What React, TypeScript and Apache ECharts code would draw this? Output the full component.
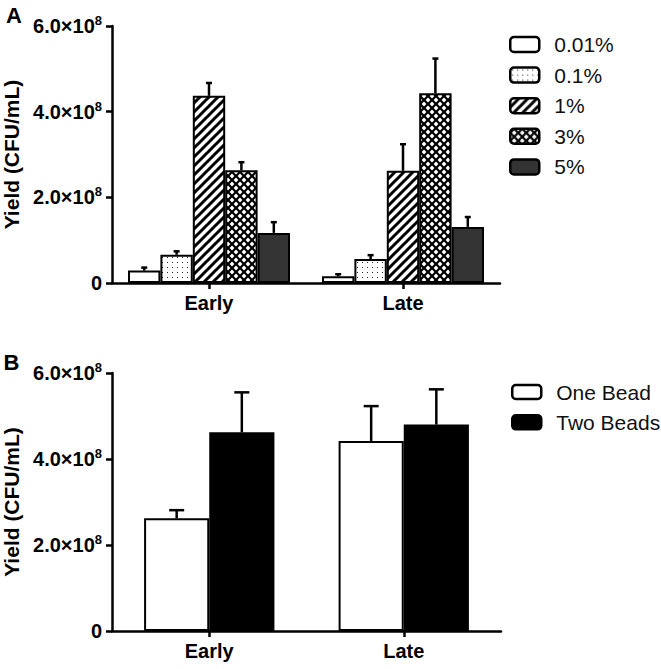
import React, { useEffect, useRef } from "react";
import * as echarts from "echarts";

const categories = ["Early", "Late"];

// Panel A: concentration groups
const seriesNamesA = ["0.01%", "0.1%", "1%", "3%", "5%"];
const meansA = [
  [0.29e8, 0.155e8],
  [0.66e8, 0.56e8],
  [4.37e8, 2.62e8],
  [2.63e8, 4.43e8],
  [1.17e8, 1.31e8],
];
const errorsA = [
  [0.07e8, 0.05e8],
  [0.08e8, 0.09e8],
  [0.3e8, 0.62e8],
  [0.19e8, 0.81e8],
  [0.25e8, 0.23e8],
];

// Panel B: bead count
const seriesNamesB = ["One Bead", "Two Beads"];
const meansB = [
  [2.62e8, 4.42e8],
  [4.62e8, 4.8e8],
];
const errorsB = [
  [0.19e8, 0.81e8],
  [0.93e8, 0.82e8],
];

const yTicks = { min: 0, max: 6e8, interval: 2e8 };

const FONT = "'Liberation Sans', Arial, Helvetica, sans-serif";

function makeTile(w: number, h: number, bg: string, draw: (ctx: CanvasRenderingContext2D) => void) {
  const c = document.createElement("canvas");
  c.width = w;
  c.height = h;
  const ctx = c.getContext("2d") as CanvasRenderingContext2D;
  ctx.fillStyle = bg;
  ctx.fillRect(0, 0, w, h);
  draw(ctx);
  return { image: c, repeat: "repeat", imageWidth: w, imageHeight: h } as any;
}

function diamond(ctx: CanvasRenderingContext2D, cx: number, cy: number, r: number) {
  ctx.beginPath();
  ctx.moveTo(cx, cy - r);
  ctx.lineTo(cx + r, cy);
  ctx.lineTo(cx, cy + r);
  ctx.lineTo(cx - r, cy);
  ctx.closePath();
  ctx.fill();
}

function buildPatterns() {
  const dots = makeTile(5, 5, "#fff", (ctx) => {
    ctx.fillStyle = "#222";
    ctx.fillRect(2, 2, 1, 1);
  });
  const stripes = makeTile(9, 9, "#fff", (ctx) => {
    ctx.strokeStyle = "#000";
    ctx.lineWidth = 3;
    ctx.beginPath();
    ctx.moveTo(-1, 10);
    ctx.lineTo(10, -1);
    ctx.moveTo(-2, 2);
    ctx.lineTo(2, -2);
    ctx.moveTo(7, 11);
    ctx.lineTo(11, 7);
    ctx.stroke();
  });
  const cross = makeTile(8, 8, "#000", (ctx) => {
    ctx.fillStyle = "#fff";
    const r = 2.4;
    diamond(ctx, 4, 4, r);
    diamond(ctx, 0, 0, r);
    diamond(ctx, 8, 0, r);
    diamond(ctx, 0, 8, r);
    diamond(ctx, 8, 8, r);
  });
  return ["#ffffff", dots, stripes, cross, "#333333"];
}

function yLabel(v: number) {
  if (v === 0) return "{a|0}";
  return `{a|${(v / 1e8).toFixed(1)}×10}{s|8}`;
}

export default function App() {
  const ref = useRef<HTMLDivElement>(null);

  useEffect(() => {
    if (!ref.current) return;
    const chart = echarts.init(ref.current, null, { renderer: "svg" });
    const fillsA = buildPatterns();
    const fillsB = ["#ffffff", "#000000"];

    const axisLineStyle = { color: "#000", width: 2.5 };

    const makeX = (gridIndex: number) => ({
      type: "category",
      gridIndex,
      data: categories,
      axisLine: { show: true, lineStyle: axisLineStyle },
      axisTick: { show: true, alignWithLabel: true, length: 6, lineStyle: axisLineStyle },
      axisLabel: { margin: 10, fontSize: 20, fontWeight: "bold", color: "#000", fontFamily: FONT },
      splitLine: { show: false },
    });
    const makeY = (gridIndex: number) => ({
      type: "value",
      gridIndex,
      min: yTicks.min,
      max: yTicks.max,
      interval: yTicks.interval,
      name: "Yield (CFU/mL)",
      nameLocation: "middle",
      nameGap: 89,
      nameTextStyle: { fontSize: 21, fontWeight: "bold", color: "#000", fontFamily: FONT },
      axisLine: { show: true, lineStyle: axisLineStyle },
      axisTick: { show: true, length: 6, lineStyle: axisLineStyle },
      splitLine: { show: false },
      axisLabel: {
        margin: 10,
        formatter: yLabel,
        rich: {
          a: { fontSize: 20, fontWeight: "bold", color: "#000", fontFamily: FONT, lineHeight: 24 },
          s: { fontSize: 13, fontWeight: "bold", color: "#000", fontFamily: FONT, verticalAlign: "top", lineHeight: 13 },
        },
      },
    });

    const series: any[] = [];
    const catGapA = 0.165;
    const catGapB = 0.33;

    seriesNamesA.forEach((name, i) => {
      series.push({
        type: "bar",
        name,
        xAxisIndex: 0,
        yAxisIndex: 0,
        data: meansA[i],
        barGap: "0%",
        barCategoryGap: catGapA * 100 + "%",
        itemStyle: { color: fillsA[i], borderColor: "#000", borderWidth: 2 },
        z: 2,
      });
    });
    seriesNamesB.forEach((name, i) => {
      series.push({
        type: "bar",
        name,
        xAxisIndex: 1,
        yAxisIndex: 1,
        data: meansB[i],
        barGap: "0%",
        barCategoryGap: catGapB * 100 + "%",
        itemStyle: { color: fillsB[i], borderColor: "#000", borderWidth: 2 },
        z: 2,
      });
    });

    const errSeries = (
      gridIdx: number,
      means: number[][],
      errs: number[][],
      catGap: number,
      capW: number
    ) => {
      const n = means.length;
      means.forEach((m, i) => {
        series.push({
          type: "custom",
          name: "err" + gridIdx + "_" + i,
          xAxisIndex: gridIdx,
          yAxisIndex: gridIdx,
          z: 5,
          encode: { x: 0, y: 1 },
          data: m.map((v, k) => [k, v, errs[i][k]]),
          renderItem: (params: any, api: any) => {
            const cat = api.value(0);
            const val = api.value(1);
            const e = api.value(2);
            const base = api.coord([cat, val]);
            const top = api.coord([cat, val + e]);
            const band = api.size([1, 0])[0];
            const groupW = band * (1 - catGap);
            const barW = groupW / n;
            const x = base[0] - groupW / 2 + (i + 0.5) * barW;
            const st = { stroke: "#000", lineWidth: 2.5 };
            return {
              type: "group",
              children: [
                { type: "line", shape: { x1: x, y1: base[1], x2: x, y2: top[1] }, style: st },
                { type: "line", shape: { x1: x - capW / 2, y1: top[1], x2: x + capW / 2, y2: top[1] }, style: st },
              ],
            };
          },
        });
      });
    };
    errSeries(0, meansA, errorsA, catGapA, 6);
    errSeries(1, meansB, errorsB, catGapB, 15);

    const legendText = { fontSize: 21, color: "#111", fontFamily: FONT, padding: [0, 0, 0, 10], lineHeight: 20 };

    chart.setOption({
      animation: false,
      backgroundColor: "#fff",
      grid: [
        { left: 112, top: 26, width: 388, height: 257, outerBoundsMode: "none", containLabel: false },
        { left: 112, top: 373, width: 389, height: 258, outerBoundsMode: "none", containLabel: false },
      ],
      xAxis: [makeX(0), makeX(1)],
      yAxis: [makeY(0), makeY(1)],
      legend: [
        {
          data: seriesNamesA,
          orient: "vertical",
          left: 509,
          top: 34,
          padding: 0,
          itemWidth: 29,
          itemHeight: 15,
          itemGap: 9.6,
          icon: "roundRect",
          itemStyle: { borderColor: "#000", borderWidth: 2.5 },
          textStyle: legendText,
          selectedMode: false,
        },
        {
          data: seriesNamesB,
          orient: "vertical",
          left: 511,
          top: 381.5,
          padding: 0,
          itemWidth: 29,
          itemHeight: 14,
          itemGap: 9.3,
          icon: "roundRect",
          itemStyle: { borderColor: "#000", borderWidth: 2.5 },
          textStyle: legendText,
          selectedMode: false,
        },
      ],
      graphic: [
        { type: "text", left: 6, top: 4, style: { text: "A", fontSize: 22, fontWeight: "bold", fill: "#000", fontFamily: FONT } },
        { type: "text", left: 3.5, top: 351.5, style: { text: "B", fontSize: 22, fontWeight: "bold", fill: "#000", fontFamily: FONT } },
      ],
      series,
    });

    return () => chart.dispose();
  }, []);

  return <div ref={ref} style={{ width: 661, height: 669, position: "absolute", left: 0, top: 0 }} />;
}
